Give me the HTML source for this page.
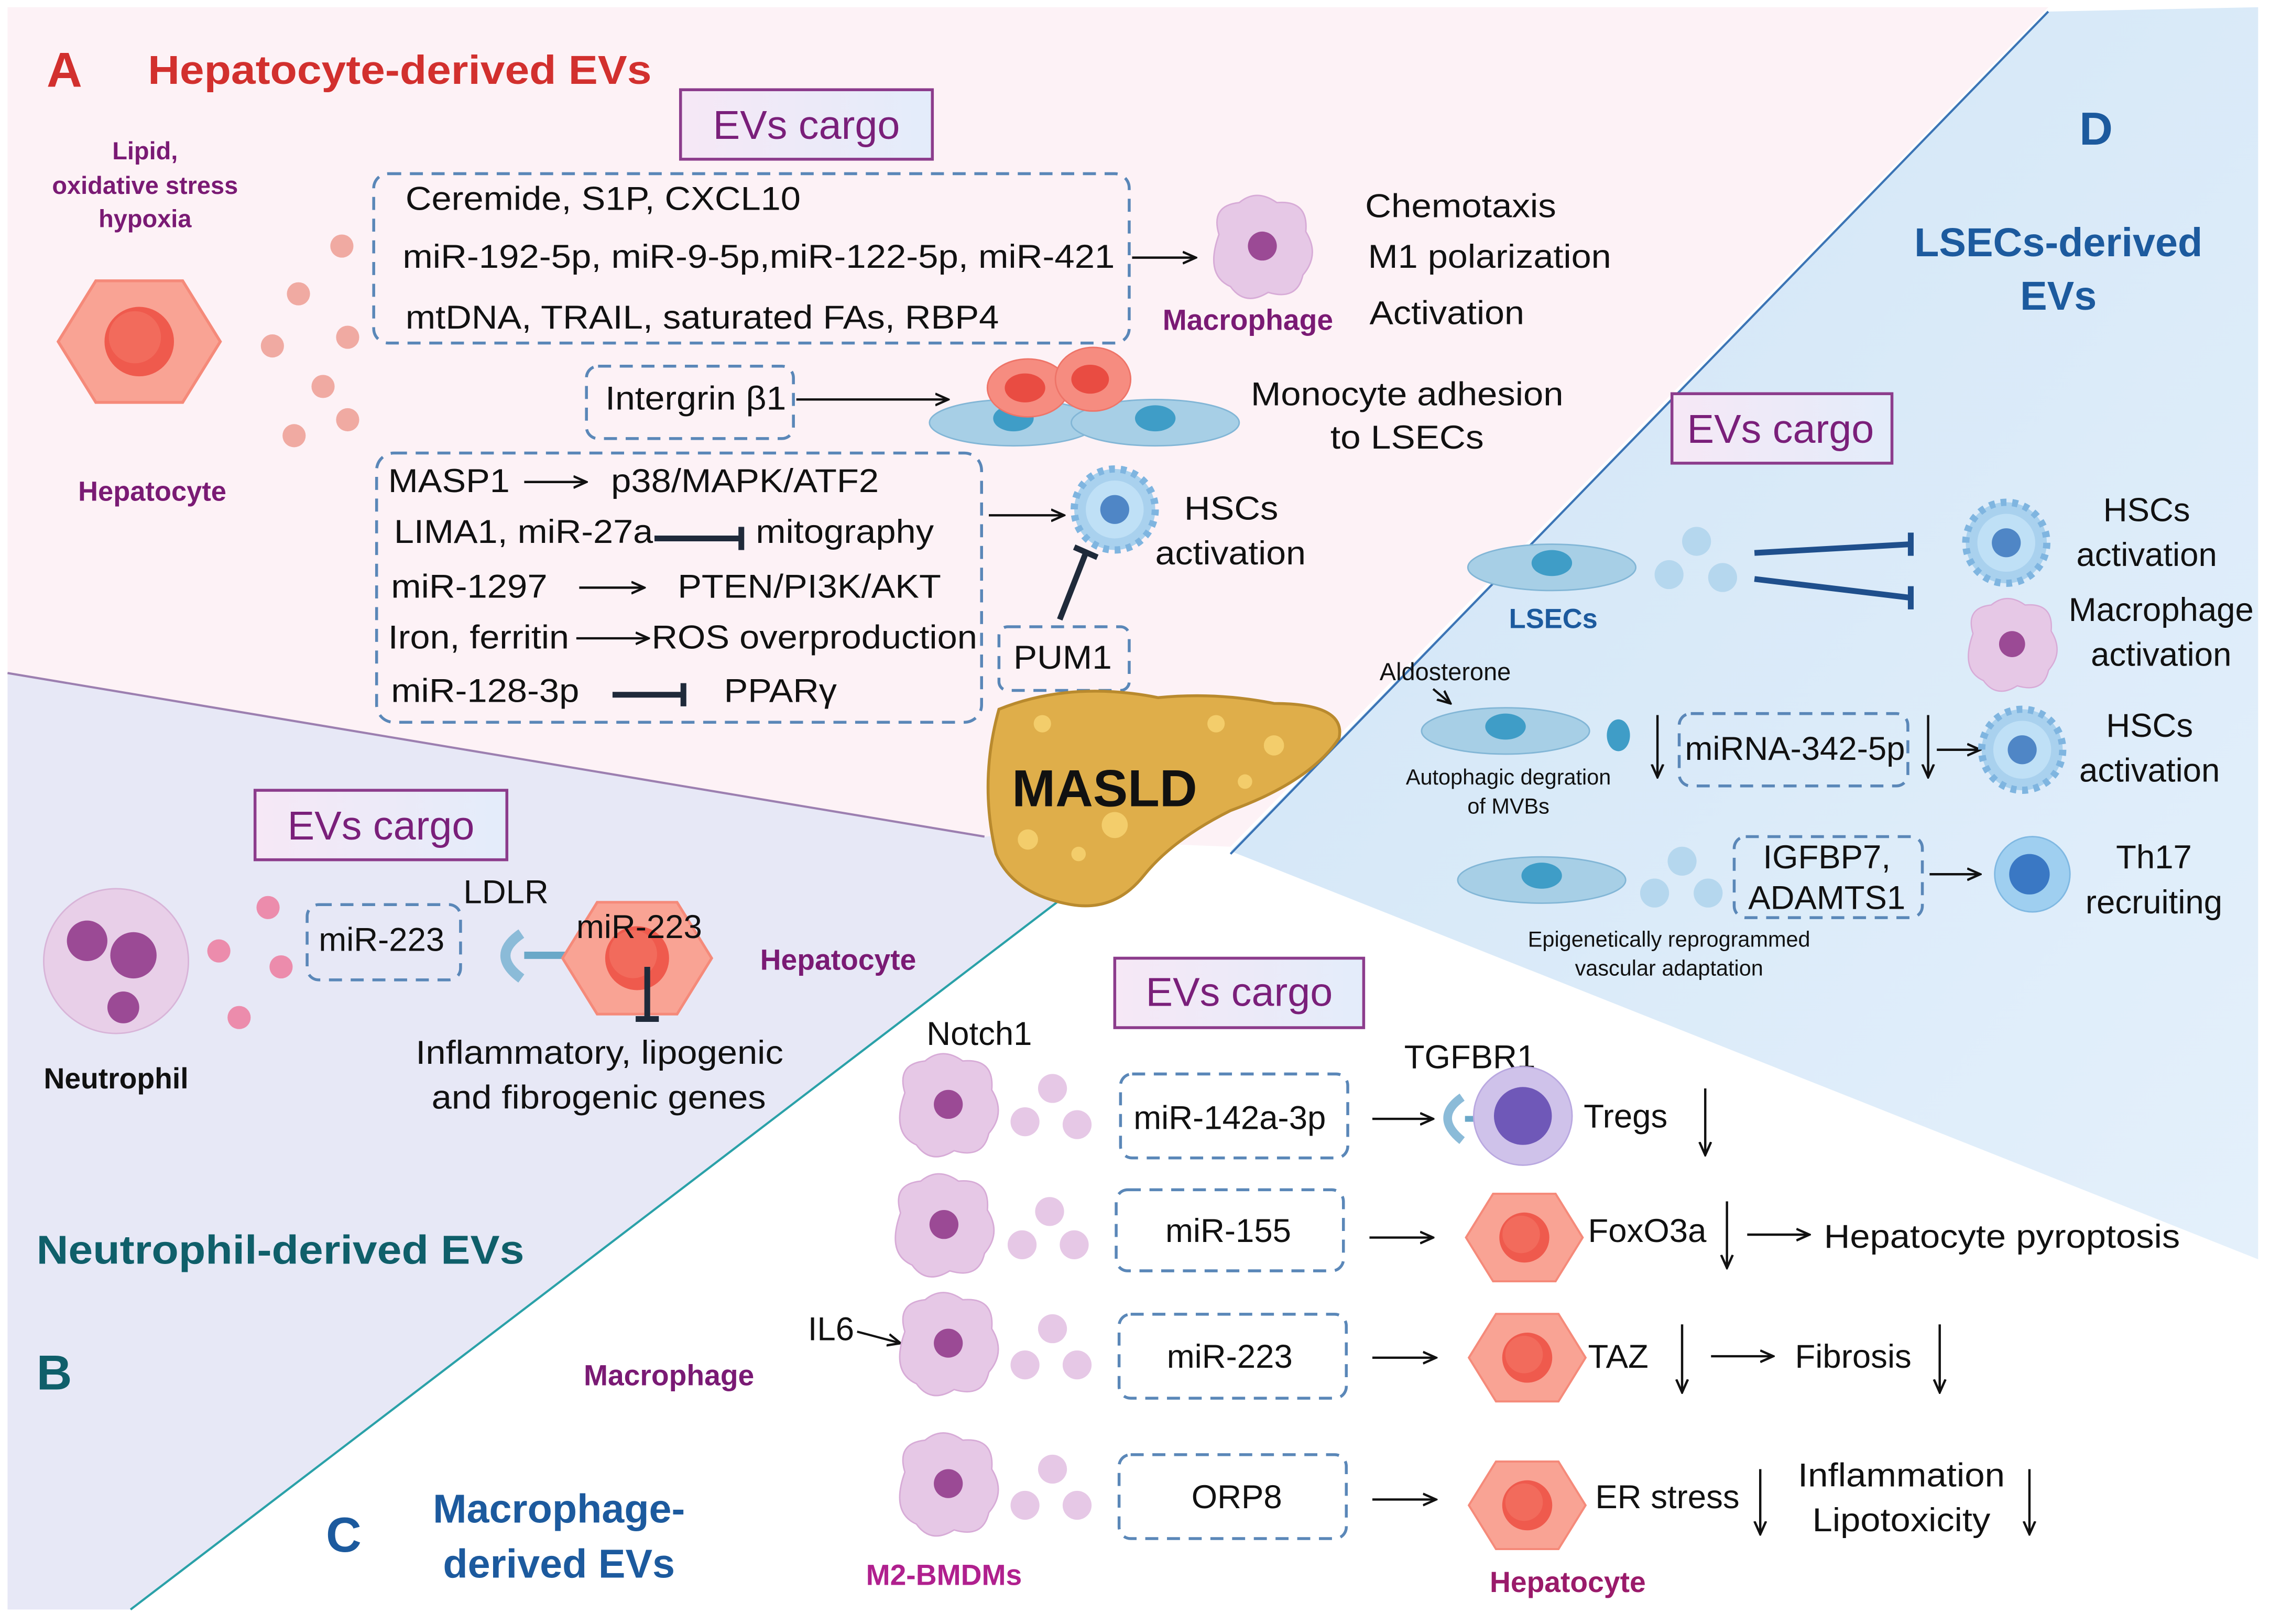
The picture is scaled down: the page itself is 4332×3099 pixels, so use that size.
<!DOCTYPE html>
<html><head><meta charset="utf-8"><style>
html,body{margin:0;padding:0;background:#fff}
svg{display:block}
text{font-family:"Liberation Sans",sans-serif}
</style></head><body>
<svg width="4332" height="3099" viewBox="0 0 1568 1122" xmlns="http://www.w3.org/2000/svg">
<defs>
<linearGradient id="dg" x1="0" y1="0" x2="1" y2="1"><stop offset="0" stop-color="#cfe4f6"/><stop offset="1" stop-color="#e4f0fb"/></linearGradient>
<linearGradient id="cg" x1="0" y1="0" x2="1" y2="0"><stop offset="0" stop-color="#f6e8f6"/><stop offset="1" stop-color="#e3ecfa"/></linearGradient>
<marker id="ar" markerWidth="10" markerHeight="10" refX="9" refY="5" orient="auto" markerUnits="userSpaceOnUse"><path d="M0,1 L9,5 L0,9" fill="none" stroke="#111" stroke-width="1.6"/></marker>
<g id="hep"><polygon points="-30,-42 30,-42 56,0 30,42 -30,42 -56,0" fill="#f9a394" stroke="#f58a7a" stroke-width="2"/><circle cx="0" cy="0" r="24" fill="#ef5a4d"/><circle cx="-3" cy="-3" r="18" fill="#f26b5c"/></g>
<g id="mac"><path d="M-30,-8 Q-36,-28 -16,-30 Q-4,-40 10,-30 Q32,-32 30,-10 Q40,6 28,20 Q24,38 4,32 Q-12,42 -22,28 Q-40,20 -30,-8Z" fill="#e6c8e6" stroke="#d7abd7"/><circle cx="0" cy="0" r="10" fill="#9b4a95"/></g>
<g id="hsc"><circle r="28" fill="#a9d1ee" stroke="#7fb5e0" stroke-width="5" stroke-dasharray="4 4"/><circle r="20" fill="#bfe0f6"/><circle r="10" fill="#4f86c6"/></g>
<g id="lsec"><ellipse cx="0" cy="0" rx="58" ry="16" fill="#a7cfe6" stroke="#82b6d6"/><ellipse cx="0" cy="-3" rx="14" ry="9" fill="#3f9dc7"/></g>
</defs>
<rect width="1568" height="1122" fill="#fff"/>
<polygon points="5,5 1415,5 850,585 680,578 5,465" fill="#fdf2f6"/>
<polygon points="5,465 680,578 800,570 90,1112 5,1112" fill="#e7e8f6"/>
<polygon points="1415,8 1560,5 1560,870 850,588" fill="url(#dg)"/>
<line x1="5" y1="465" x2="680" y2="578" stroke="#9c7fb0" stroke-width="1.5"/>
<line x1="90" y1="1112" x2="800" y2="570" stroke="#2aa1a8" stroke-width="1.5"/>
<line x1="1415" y1="8" x2="850" y2="590" stroke="#3b74b5" stroke-width="1.5"/>
<text x="32" y="60" font-size="34" font-weight="bold" fill="#d2302e">A</text>
<text x="102" y="58" font-size="28" font-weight="bold" fill="#d2302e" textLength="348" lengthAdjust="spacingAndGlyphs">Hepatocyte-derived EVs</text>
<rect x="470" y="62" width="174" height="48" fill="url(#cg)" stroke="#8c3c8c" stroke-width="2"/>
<text x="557" y="96" font-size="28" fill="#7a1f7a" text-anchor="middle">EVs cargo</text>
<g font-size="17" font-weight="bold" fill="#7a1a74" text-anchor="middle"><text x="100" y="110">Lipid,</text><text x="100" y="134">oxidative stress</text><text x="100" y="157">hypoxia</text><text x="105" y="346" font-size="19">Hepatocyte</text></g>
<use href="#hep" x="96" y="236"/>
<g fill="#f0aaa2"><circle cx="236" cy="170" r="8"/><circle cx="206" cy="203" r="8"/><circle cx="240" cy="233" r="8"/><circle cx="188" cy="239" r="8"/><circle cx="223" cy="267" r="8"/><circle cx="240" cy="290" r="8"/><circle cx="203" cy="301" r="8"/></g>
<g fill="none" stroke="#5a87b8" stroke-width="2" stroke-dasharray="9 6">
<rect x="258" y="120" width="522" height="117" rx="10"/>
<rect x="405" y="253" width="143" height="50" rx="8"/>
<rect x="260" y="313" width="418" height="186" rx="12"/>
<rect x="690" y="433" width="90" height="44" rx="6"/>
</g>
<g font-size="23" fill="#111" lengthAdjust="spacingAndGlyphs">
<text x="280" y="145" textLength="273" lengthAdjust="spacingAndGlyphs">Ceremide, S1P, CXCL10</text>
<text x="278" y="185" textLength="492" lengthAdjust="spacingAndGlyphs">miR-192-5p, miR-9-5p,miR-122-5p, miR-421</text>
<text x="280" y="227" textLength="410" lengthAdjust="spacingAndGlyphs">mtDNA, TRAIL, saturated FAs, RBP4</text>
<text x="418" y="283" textLength="125" lengthAdjust="spacingAndGlyphs">Intergrin β1</text>
<text x="268" y="340" textLength="84" lengthAdjust="spacingAndGlyphs">MASP1</text><text x="422" y="340" textLength="185" lengthAdjust="spacingAndGlyphs">p38/MAPK/ATF2</text>
<text x="272" y="375" textLength="179" lengthAdjust="spacingAndGlyphs">LIMA1, miR-27a</text><text x="522" y="375" textLength="123" lengthAdjust="spacingAndGlyphs">mitography</text>
<text x="270" y="413" textLength="108" lengthAdjust="spacingAndGlyphs">miR-1297</text><text x="468" y="413" textLength="182" lengthAdjust="spacingAndGlyphs">PTEN/PI3K/AKT</text>
<text x="268" y="448" textLength="125" lengthAdjust="spacingAndGlyphs">Iron, ferritin</text><text x="450" y="448" textLength="225" lengthAdjust="spacingAndGlyphs">ROS overproduction</text>
<text x="270" y="485" textLength="130" lengthAdjust="spacingAndGlyphs">miR-128-3p</text><text x="500" y="485" textLength="78" lengthAdjust="spacingAndGlyphs">PPARγ</text>
<text x="700" y="462" textLength="68" lengthAdjust="spacingAndGlyphs">PUM1</text>
<text x="943" y="150" textLength="132" lengthAdjust="spacingAndGlyphs">Chemotaxis</text><text x="945" y="185" textLength="168" lengthAdjust="spacingAndGlyphs">M1 polarization</text><text x="946" y="224" textLength="107" lengthAdjust="spacingAndGlyphs">Activation</text>
<text x="864" y="280" textLength="216" lengthAdjust="spacingAndGlyphs">Monocyte adhesion</text><text x="919" y="310" textLength="106" lengthAdjust="spacingAndGlyphs">to LSECs</text>
<text x="818" y="359" textLength="65" lengthAdjust="spacingAndGlyphs">HSCs</text><text x="798" y="390" textLength="104" lengthAdjust="spacingAndGlyphs">activation</text>
</g>
<g stroke="#111" stroke-width="1.6" fill="none" marker-end="url(#ar)">
<line x1="782" y1="178" x2="826" y2="178"/><line x1="550" y1="276" x2="655" y2="276"/>
<line x1="362" y1="333" x2="405" y2="333"/><line x1="400" y1="406" x2="445" y2="406"/><line x1="398" y1="441" x2="448" y2="441"/>
<line x1="683" y1="356" x2="735" y2="356"/>
</g>
<g stroke="#1f2a3a" stroke-width="4"><line x1="452" y1="372" x2="512" y2="372"/><line x1="512" y1="364" x2="512" y2="380"/>
<line x1="423" y1="480" x2="472" y2="480"/><line x1="472" y1="472" x2="472" y2="488"/>
<line x1="732" y1="428" x2="750" y2="382"/><line x1="742" y1="378" x2="758" y2="385"/></g>
<use href="#mac" x="872" y="170"/>
<text x="862" y="228" font-size="20" font-weight="bold" fill="#7a1a74" text-anchor="middle">Macrophage</text>
<use href="#lsec" x="700" y="292"/><use href="#lsec" x="798" y="292"/>
<ellipse cx="710" cy="268" rx="28" ry="20" fill="#f68c80" stroke="#ee7468"/><ellipse cx="708" cy="268" rx="14" ry="10" fill="#e94c42"/>
<ellipse cx="755" cy="262" rx="26" ry="22" fill="#f68c80" stroke="#ee7468"/><ellipse cx="753" cy="262" rx="13" ry="10" fill="#e94c42"/>
<use href="#hsc" x="770" y="352"/>
<path d="M690,490 Q740,470 800,482 Q840,478 880,486 Q930,486 925,510 Q905,540 850,560 Q810,580 790,605 Q770,630 740,625 Q700,618 688,590 Q676,540 690,490Z" fill="#dfae4a" stroke="#b98a2e" stroke-width="2"/>
<g fill="#f3cd6b"><circle cx="720" cy="500" r="6"/><circle cx="770" cy="570" r="9"/><circle cx="710" cy="580" r="7"/><circle cx="840" cy="500" r="6"/><circle cx="880" cy="515" r="7"/><circle cx="745" cy="590" r="5"/><circle cx="860" cy="540" r="5"/></g>
<text x="763" y="557" font-size="36" font-weight="bold" fill="#111" text-anchor="middle">MASLD</text>
<text x="1448" y="100" font-size="32" font-weight="bold" fill="#1c5a9e" text-anchor="middle">D</text>
<text x="1422" y="177" font-size="28" font-weight="bold" fill="#1c5a9e" text-anchor="middle">LSECs-derived</text>
<text x="1422" y="214" font-size="28" font-weight="bold" fill="#1c5a9e" text-anchor="middle">EVs</text>
<rect x="1155" y="272" width="152" height="48" fill="url(#cg)" stroke="#8c3c8c" stroke-width="2"/>
<text x="1230" y="306" font-size="28" fill="#7a1f7a" text-anchor="middle">EVs cargo</text>
<use href="#lsec" x="1072" y="392"/>
<text x="1073" y="434" font-size="19" font-weight="bold" fill="#1c5a9e" text-anchor="middle">LSECs</text>
<g fill="#b5d7ee"><circle cx="1172" cy="374" r="10"/><circle cx="1153" cy="397" r="10"/><circle cx="1190" cy="399" r="10"/></g>
<g stroke="#1f4f8c" stroke-width="4"><line x1="1212" y1="382" x2="1320" y2="376"/><line x1="1320" y1="368" x2="1320" y2="384"/><line x1="1212" y1="400" x2="1320" y2="413"/><line x1="1320" y1="405" x2="1320" y2="421"/></g>
<use href="#hsc" x="1386" y="375"/>
<use href="#mac" x="1390" y="445" transform="translate(1390 445) scale(0.9) translate(-1390 -445)"/>
<g font-size="23" fill="#111" text-anchor="middle">
<text x="1483" y="360">HSCs</text><text x="1483" y="391">activation</text>
<text x="1493" y="429">Macrophage</text><text x="1493" y="460">activation</text>
<text x="1485" y="509">HSCs</text><text x="1485" y="540">activation</text>
<text x="1488" y="600">Th17</text><text x="1488" y="631">recruiting</text>
<text x="1240" y="525">miRNA-342-5p</text>
<text x="1262" y="600">IGFBP7,</text><text x="1262" y="628">ADAMTS1</text>
</g>
<text x="953" y="470" font-size="17" fill="#111">Aldosterone</text>
<line x1="990" y1="476" x2="1002" y2="486" stroke="#111" stroke-width="1.5" marker-end="url(#ar)"/>
<use href="#lsec" x="1040" y="505"/>
<text x="1042" y="542" font-size="15" fill="#111" text-anchor="middle">Autophagic degration</text>
<text x="1042" y="562" font-size="15" fill="#111" text-anchor="middle">of MVBs</text>
<ellipse cx="1118" cy="508" rx="8" ry="11" fill="#3f9dc7"/>
<g fill="none" stroke="#5a87b8" stroke-width="2" stroke-dasharray="9 6"><rect x="1160" y="493" width="158" height="50" rx="8"/><rect x="1198" y="578" width="130" height="56" rx="8"/></g>
<g stroke="#111" stroke-width="1.6" fill="none" marker-end="url(#ar)">
<line x1="1145" y1="494" x2="1145" y2="537"/><line x1="1332" y1="494" x2="1332" y2="537"/><line x1="1338" y1="518" x2="1368" y2="518"/><line x1="1333" y1="604" x2="1368" y2="604"/></g>
<use href="#hsc" x="1397" y="518"/>
<circle cx="1404" cy="604" r="26" fill="#9fcff0" stroke="#7fb8e2"/><circle cx="1402" cy="604" r="14" fill="#3a78c4"/>
<use href="#lsec" x="1065" y="608"/>
<g fill="#b5d7ee"><circle cx="1162" cy="595" r="10"/><circle cx="1143" cy="617" r="10"/><circle cx="1180" cy="617" r="10"/></g>
<text x="1153" y="654" font-size="15" fill="#111" text-anchor="middle">Epigenetically reprogrammed</text>
<text x="1153" y="674" font-size="15" fill="#111" text-anchor="middle">vascular adaptation</text>
<rect x="176" y="546" width="174" height="48" fill="url(#cg)" stroke="#8c3c8c" stroke-width="2"/>
<text x="263" y="580" font-size="28" fill="#7a1f7a" text-anchor="middle">EVs cargo</text>
<circle cx="80" cy="664" r="50" fill="#e8cfe8" stroke="#d8b4d8"/><circle cx="60" cy="650" r="14" fill="#9b4a95"/><circle cx="92" cy="660" r="16" fill="#9b4a95"/><circle cx="85" cy="696" r="11" fill="#9b4a95"/>
<text x="80" y="752" font-size="20" font-weight="bold" fill="#111" text-anchor="middle">Neutrophil</text>
<g fill="#ec8cac"><circle cx="185" cy="627" r="8"/><circle cx="151" cy="657" r="8"/><circle cx="194" cy="668" r="8"/><circle cx="165" cy="703" r="8"/></g>
<rect x="212" y="625" width="106" height="52" rx="8" fill="none" stroke="#5a87b8" stroke-width="2" stroke-dasharray="9 6"/>
<text x="220" y="657" font-size="23" fill="#111">miR-223</text>
<path d="M360,645 Q338,660 360,676" fill="none" stroke="#8bbbd8" stroke-width="7"/>
<line x1="362" y1="660" x2="392" y2="660" stroke="#6aa8c8" stroke-width="5"/>
<use href="#hep" x="440" y="662" transform="translate(440 662) scale(0.92) translate(-440 -662)"/>
<text x="320" y="624" font-size="23" fill="#111">LDLR</text>
<text x="398" y="648" font-size="23" fill="#111">miR-223</text>
<text x="525" y="670" font-size="20" font-weight="bold" fill="#7a1a74">Hepatocyte</text>
<g stroke="#1f2a3a" stroke-width="4"><line x1="447" y1="668" x2="447" y2="704"/><line x1="439" y1="704" x2="455" y2="704"/></g>
<text x="287" y="735" font-size="23" fill="#111" textLength="254" lengthAdjust="spacingAndGlyphs">Inflammatory, lipogenic</text>
<text x="298" y="766" font-size="23" fill="#111" textLength="231" lengthAdjust="spacingAndGlyphs">and fibrogenic genes</text>
<text x="25" y="873" font-size="28" font-weight="bold" fill="#0f5f6a" textLength="337" lengthAdjust="spacingAndGlyphs">Neutrophil-derived EVs</text>
<text x="25" y="960" font-size="34" font-weight="bold" fill="#0f5f6a">B</text>
<text x="225" y="1072" font-size="34" font-weight="bold" fill="#1c5a9e">C</text>
<text x="386" y="1052" font-size="28" font-weight="bold" fill="#1c5a9e" text-anchor="middle">Macrophage-</text>
<text x="386" y="1090" font-size="28" font-weight="bold" fill="#1c5a9e" text-anchor="middle">derived EVs</text>
<rect x="770" y="662" width="172" height="48" fill="url(#cg)" stroke="#8c3c8c" stroke-width="2"/>
<text x="856" y="695" font-size="28" fill="#7a1f7a" text-anchor="middle">EVs cargo</text>
<text x="640" y="722" font-size="23" fill="#111">Notch1</text>
<text x="970" y="738" font-size="23" fill="#111">TGFBR1</text>
<text x="558" y="926" font-size="23" fill="#111">IL6</text>
<line x1="592" y1="920" x2="622" y2="928" stroke="#111" stroke-width="1.5" marker-end="url(#ar)"/>
<text x="462" y="957" font-size="20" font-weight="bold" fill="#7a1a74" text-anchor="middle">Macrophage</text>
<text x="652" y="1095" font-size="20" font-weight="bold" fill="#b0208e" text-anchor="middle">M2-BMDMs</text>
<text x="1083" y="1100" font-size="20" font-weight="bold" fill="#9a1a6a" text-anchor="middle">Hepatocyte</text>
<use href="#mac" x="655" y="763"/><use href="#mac" x="652" y="846"/><use href="#mac" x="655" y="928"/><use href="#mac" x="655" y="1025"/>
<g fill="#e6c8e6"><circle cx="727" cy="752" r="10"/><circle cx="708" cy="775" r="10"/><circle cx="744" cy="777" r="10"/>
<circle cx="725" cy="837" r="10"/><circle cx="706" cy="860" r="10"/><circle cx="742" cy="860" r="10"/>
<circle cx="727" cy="918" r="10"/><circle cx="708" cy="943" r="10"/><circle cx="744" cy="943" r="10"/>
<circle cx="727" cy="1015" r="10"/><circle cx="708" cy="1040" r="10"/><circle cx="744" cy="1040" r="10"/></g>
<g fill="none" stroke="#5a87b8" stroke-width="2" stroke-dasharray="9 6">
<rect x="774" y="742" width="157" height="58" rx="8"/><rect x="771" y="822" width="157" height="56" rx="8"/>
<rect x="773" y="908" width="157" height="58" rx="8"/><rect x="773" y="1005" width="157" height="58" rx="8"/></g>
<g font-size="23" fill="#111">
<text x="783" y="780">miR-142a-3p</text><text x="805" y="858">miR-155</text><text x="806" y="945">miR-223</text><text x="823" y="1042">ORP8</text>
<text x="1094" y="779">Tregs</text><text x="1097" y="858">FoxO3a</text><text x="1260" y="862" textLength="246" lengthAdjust="spacingAndGlyphs">Hepatocyte pyroptosis</text>
<text x="1097" y="945">TAZ</text><text x="1240" y="945">Fibrosis</text>
<text x="1102" y="1042">ER stress</text><text x="1242" y="1027" textLength="143" lengthAdjust="spacingAndGlyphs">Inflammation</text><text x="1252" y="1058" textLength="123" lengthAdjust="spacingAndGlyphs">Lipotoxicity</text>
</g>
<g stroke="#111" stroke-width="1.6" fill="none" marker-end="url(#ar)">
<line x1="948" y1="773" x2="990" y2="773"/><line x1="946" y1="855" x2="990" y2="855"/><line x1="948" y1="938" x2="992" y2="938"/><line x1="948" y1="1036" x2="992" y2="1036"/>
<line x1="1207" y1="853" x2="1250" y2="853"/><line x1="1182" y1="937" x2="1225" y2="937"/>
<line x1="1178" y1="752" x2="1178" y2="798"/><line x1="1193" y1="830" x2="1193" y2="876"/><line x1="1162" y1="915" x2="1162" y2="962"/>
<line x1="1340" y1="915" x2="1340" y2="962"/><line x1="1216" y1="1015" x2="1216" y2="1060"/><line x1="1402" y1="1015" x2="1402" y2="1060"/></g>
<path d="M1010,758 Q990,772 1010,788" fill="none" stroke="#8bbbd8" stroke-width="6"/>
<line x1="1012" y1="773" x2="1040" y2="773" stroke="#6aa8c8" stroke-width="4"/>
<circle cx="1052" cy="771" r="34" fill="#cfc2ea" stroke="#b9a8e0"/><circle cx="1052" cy="771" r="20" fill="#6f58b8"/>
<use href="#hep" x="1053" y="855" transform="translate(1053 855) scale(0.72) translate(-1053 -855)"/>
<use href="#hep" x="1055" y="938" transform="translate(1055 938) scale(0.72) translate(-1055 -938)"/>
<use href="#hep" x="1055" y="1040" transform="translate(1055 1040) scale(0.72) translate(-1055 -1040)"/>
</svg>
</body></html>
